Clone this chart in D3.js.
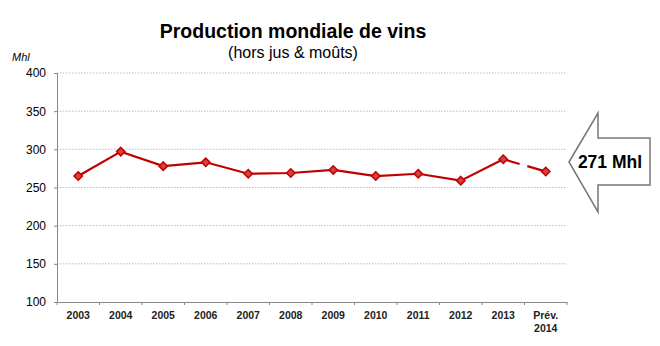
<!DOCTYPE html>
<html><head><meta charset="utf-8">
<script src="https://cdn.jsdelivr.net/npm/d3@7"></script>
<style>body{margin:0;background:#fff;}svg{display:block;font-family:"Liberation Sans",Arial,sans-serif;}</style>
</head><body><svg id="c" width="660" height="346"></svg>
<script>
const categories = ["2003","2004","2005","2006","2007","2008","2009","2010","2011","2012","2013","Prév.\n2014"];
const values = [265, 297, 278, 283, 268, 269, 273, 265, 268, 259, 287, 271];
const yTicks = [100,150,200,250,300,350,400];
const title = "Production mondiale de vins";
const subtitle = "(hors jus & moûts)";
const unit = "Mhl";
const callout = "271 Mhl";

const svg = d3.select("#c");
const m = {l:57, r:567, t:73, b:302};
const x = d3.scaleBand().domain(categories).range([m.l, m.r]);
const y = d3.scaleLinear().domain([100,400]).range([m.b, m.t]);

svg.append("text").attr("x",293).attr("y",38).attr("text-anchor","middle")
  .attr("font-size",19.5).attr("font-weight","bold").text(title);
svg.append("text").attr("x",293).attr("y",58).attr("text-anchor","middle")
  .attr("font-size",16).text(subtitle);
svg.append("text").attr("x",12).attr("y",61).attr("font-size",11).attr("font-style","italic").text(unit);

// gridlines
svg.append("g").selectAll("line").data(yTicks.filter(d=>d>100)).join("line")
  .attr("x1",m.l).attr("x2",m.r).attr("y1",d=>y(d)).attr("y2",d=>y(d))
  .attr("stroke","#bbb").attr("stroke-dasharray","1.5,1.5").attr("stroke-width",1);

// y axis
const ya = svg.append("g").attr("transform",`translate(${m.l},0)`)
  .call(d3.axisLeft(y).tickValues(yTicks).tickSize(3).tickPadding(8));
ya.select(".domain").attr("stroke","#888");
ya.selectAll(".tick line").attr("stroke","#888");
ya.selectAll("text").attr("font-size",12).attr("fill","#000").attr("font-family","Liberation Sans, Arial");

// x axis
const xa = svg.append("g").attr("transform",`translate(0,${m.b})`)
  .call(d3.axisBottom(x).tickSize(0).tickFormat(""));
xa.select(".domain").attr("stroke","#888");
svg.append("g").selectAll("line").data(categories.concat(["_end"])).join("line")
  .attr("x1",(d,i)=>m.l+i*x.bandwidth()).attr("x2",(d,i)=>m.l+i*x.bandwidth())
  .attr("y1",m.b).attr("y2",m.b+3).attr("stroke","#888");
const lbl = svg.append("g").selectAll("text").data(categories).join("text")
  .attr("x",d=>x(d)+x.bandwidth()/2).attr("y",319).attr("text-anchor","middle")
  .attr("font-size",10.5).attr("font-weight","bold").attr("fill","#222");
lbl.each(function(d){
  const parts = d.split("\n");
  const t = d3.select(this);
  parts.forEach((p,i)=>t.append("tspan").attr("x",x(d)+x.bandwidth()/2).attr("dy",i?13:0).text(p));
});

const cx = d=>x(d)+x.bandwidth()/2;
const pts = categories.map((c,i)=>[cx(c), y(values[i])]);
const line = d3.line();
const red = "#c00000";
svg.append("path").attr("d",line(pts.slice(0,11))).attr("fill","none")
  .attr("stroke",red).attr("stroke-width",2.2);
svg.append("path").attr("d",line(pts.slice(10))).attr("fill","none")
  .attr("stroke",red).attr("stroke-width",2.2).attr("stroke-dasharray","17,8");
svg.append("g").selectAll("path").data(pts).join("path")
  .attr("d",d3.symbol(d3.symbolDiamond2,45)())
  .attr("transform",d=>`translate(${d[0]},${d[1]})`)
  .attr("fill","#d84040").attr("stroke",red).attr("stroke-width",1.5);

// callout arrow
const ax = [569,598,650];
svg.append("path")
  .attr("d",`M${ax[0]},162 L${ax[1]},113 L${ax[1]},138 L${ax[2]},138 L${ax[2]},185 L${ax[1]},185 L${ax[1]},212 Z`)
  .attr("fill","#fff").attr("stroke","#777").attr("stroke-width",1.5);
svg.append("text").attr("x",610).attr("y",168).attr("text-anchor","middle")
  .attr("font-size",17.5).attr("font-weight","bold").text(callout);
</script></body></html>
